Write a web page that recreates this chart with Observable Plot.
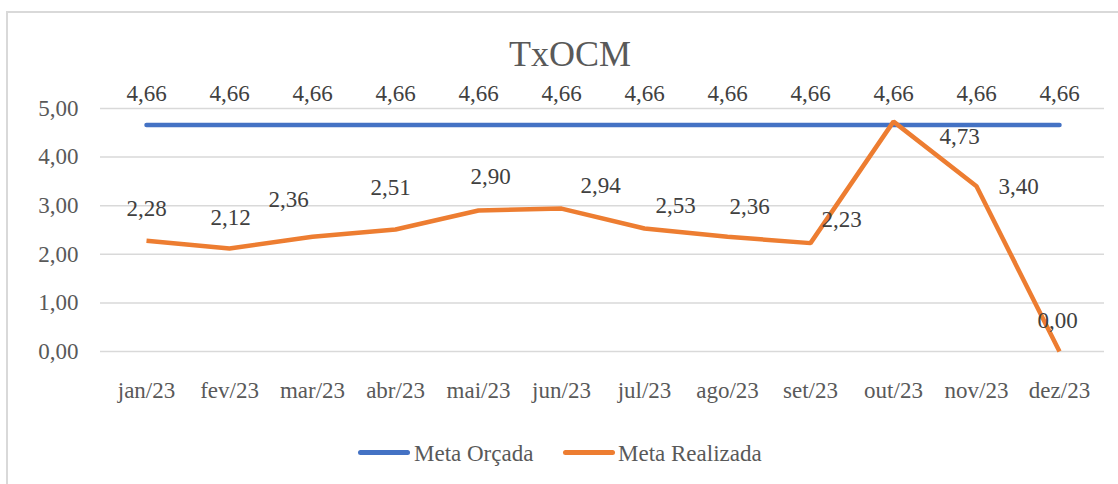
<!DOCTYPE html>
<html>
<head>
<meta charset="utf-8">
<script src="https://cdn.jsdelivr.net/npm/d3@7"></script>
<script src="https://cdn.jsdelivr.net/npm/@observablehq/plot@0.6"></script>
<style>
  html, body { margin: 0; padding: 0; background: #fff; width: 1118px; height: 484px; overflow: hidden; }
  body { position: relative; font-family: "Liberation Serif", "Times New Roman", serif; color: #595959; }
  #frame { position: absolute; left: 6px; top: 11px; width: 1200px; height: 600px;
           border-left: 2px solid #d9d9d9; border-top: 2px solid #d9d9d9; box-sizing: border-box; }
  #title { position: absolute; left: 370px; width: 400px; top: 36px; text-align: center;
           font-size: 36px; line-height: 36px; color: #595959; }
  #chart { position: absolute; left: 0; top: 60px; }
  #chart svg, #chart svg text, #chart svg g { font-family: "Liberation Serif", "Times New Roman", serif !important; font-variant: normal !important; }
  .leg { position: absolute; top: 442px; font-size: 23px; line-height: 23px; color: #595959; white-space: nowrap; }
  .sw { position: absolute; top: 450px; height: 4.5px; width: 52px; border-radius: 3px; }
</style>
</head>
<body>
<div id="frame"></div>
<div id="title">TxOCM</div>
<div id="chart"></div>
<div class="sw" style="left:358px;background:#4472C4"></div>
<div class="leg" style="left:414px">Meta Orçada</div>
<div class="sw" style="left:563px;background:#ED7D31"></div>
<div class="leg" style="left:618px">Meta Realizada</div>
<script>
const months = ["jan/23","fev/23","mar/23","abr/23","mai/23","jun/23","jul/23","ago/23","set/23","out/23","nov/23","dez/23"];
const metaOrcada = [4.66,4.66,4.66,4.66,4.66,4.66,4.66,4.66,4.66,4.66,4.66,4.66];
const metaRealizada = [2.28,2.12,2.36,2.51,2.90,2.94,2.53,2.36,2.23,4.73,3.40,0.00];
const yTicks = [0,1,2,3,4,5];

const fmt = v => v.toFixed(2).replace(".", ",");
const orc = months.map((m, i) => ({month: m, value: metaOrcada[i]}));
const real = months.map((m, i) => ({month: m, value: metaRealizada[i]}));
const serif = "Liberation Serif, Times New Roman, serif";

// label offsets (dx, dy) for the realized series, as placed in the original
const labelOffset = {
  "jan/23": [0, -32], "fev/23": [1, -31], "mar/23": [-24, -37], "abr/23": [-5, -42],
  "mai/23": [12, -34], "jun/23": [39, -23], "jul/23": [31, -23], "ago/23": [22, -30],
  "set/23": [31, -23], "out/23": [66, 15], "nov/23": [42, 0], "dez/23": [-2, -31]
};

const realLabels = real.map(d => Plot.text([d], {
  x: "month", y: "value", text: d => fmt(d.value),
  dx: labelOffset[d.month][0], dy: labelOffset[d.month][1],
  fill: "#404040", fontSize: 23, fontFamily: serif
}));

const chart = Plot.plot({
  width: 1118,
  height: 360,
  marginTop: 48,
  marginBottom: 69,
  marginLeft: 100,
  marginRight: 14,
  style: {fontFamily: serif, fontSize: "23px", color: "#595959", background: "transparent"},
  x: {type: "point", domain: months, padding: 0.5, label: null},
  y: {domain: [0, 5], label: null},
  marks: [
    Plot.ruleY(yTicks, {stroke: "#d9d9d9", strokeWidth: 1.5}),
    Plot.axisY({ticks: yTicks, tickFormat: fmt, tickSize: 0, tickPadding: 22, label: null, fontSize: 23, fontFamily: serif}),
    Plot.axisX({tickSize: 0, tickPadding: 30, label: null, fontSize: 23, fontFamily: serif}),
    Plot.line(orc, {x: "month", y: "value", stroke: "#4472C4", strokeWidth: 4.5, strokeLinecap: "round"}),
    Plot.line(real, {x: "month", y: "value", stroke: "#ED7D31", strokeWidth: 4.5, strokeLinecap: "butt", strokeLinejoin: "miter"}),
    Plot.text(orc, {x: "month", y: "value", text: d => fmt(d.value), dy: -31, fill: "#404040", fontSize: 23, fontFamily: serif}),
    ...realLabels
  ]
});
document.getElementById("chart").appendChild(chart);
</script>
</body>
</html>
